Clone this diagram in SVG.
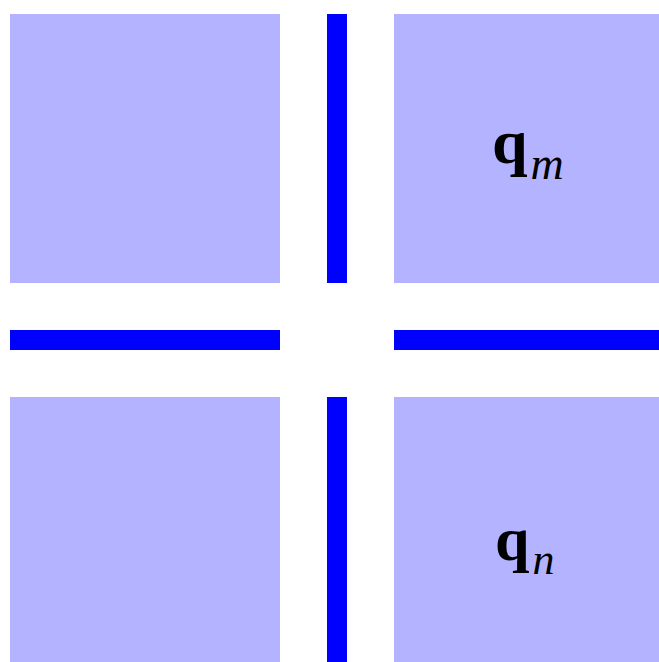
<svg xmlns="http://www.w3.org/2000/svg" width="659" height="662" viewBox="0 0 659 662">
<style>
.sq{fill:#b3b3ff}
.bar{fill:#0000ff}
.q{font-family:"Liberation Serif",serif;font-weight:bold;fill:#000}
.sub{font-family:"Liberation Serif",serif;font-style:italic;font-weight:normal;fill:#000}
</style>
<rect width="659" height="662" fill="#fff"/>
<g id="sq-tl"><rect class="sq" x="10" y="14" width="270" height="269"/></g>
<g id="sq-tr"><rect class="sq" x="394" y="14" width="270" height="269"/>
<text x="492" y="163" class="q" font-size="64">q<tspan class="sub" font-size="46" dx="3" dy="16">m</tspan></text></g>
<g id="sq-bl"><rect class="sq" x="10" y="397" width="270" height="270"/></g>
<g id="sq-br"><rect class="sq" x="394" y="397" width="270" height="270"/>
<text x="495" y="560" class="q" font-size="62">q<tspan class="sub" font-size="44" dx="3" dy="14">n</tspan></text></g>
<g id="bars">
<rect class="bar" x="327" y="14" width="20" height="269"/>
<rect class="bar" x="327" y="397" width="20" height="270"/>
<rect class="bar" x="10" y="330" width="270" height="20"/>
<rect class="bar" x="394" y="330" width="270" height="20"/>
</g>
</svg>
